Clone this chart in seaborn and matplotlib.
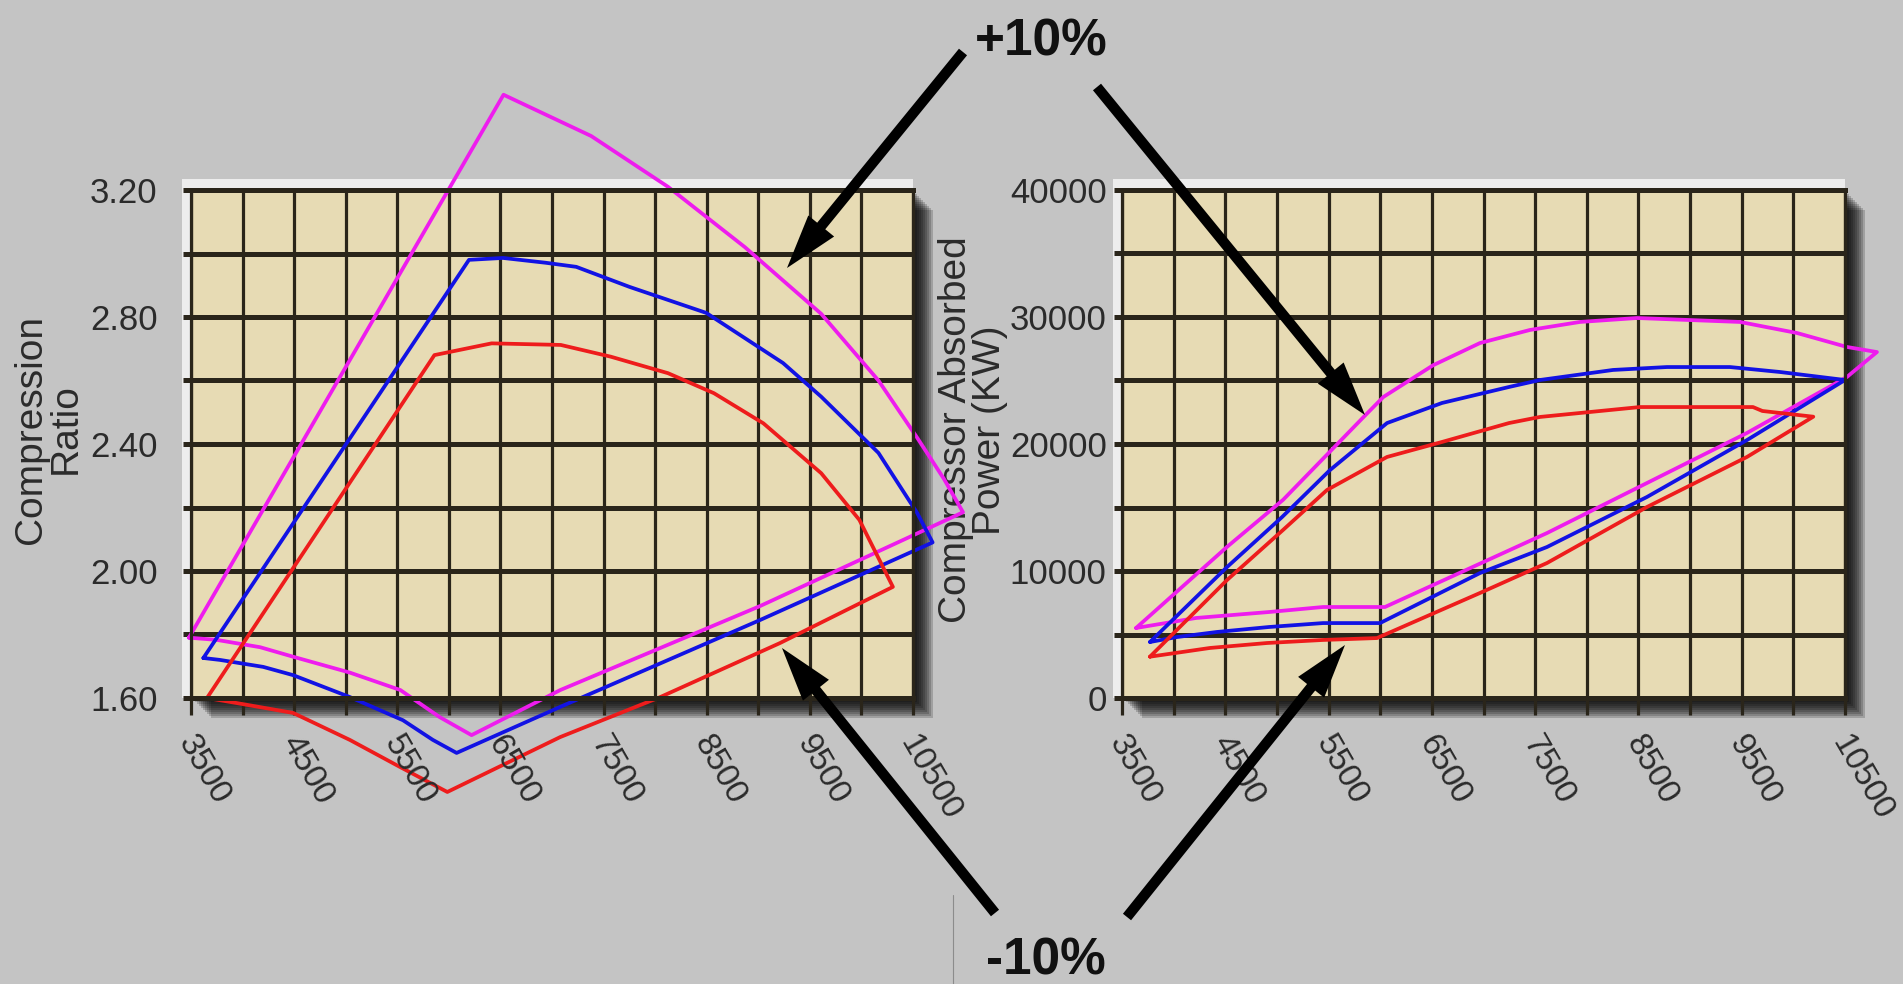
import matplotlib.pyplot as plt
import pandas as pd
import seaborn as sns
from matplotlib.lines import Line2D
from matplotlib.patches import FancyArrowPatch, Rectangle
from matplotlib.ticker import MultipleLocator
from matplotlib.transforms import ScaledTranslation, blended_transform_factory

# compression ratio map, one closed loop per speed variation (rpm, ratio)
ratio_plus_rpm = [3480, 6530, 7380, 8125, 8870, 9610, 10165, 10540, 10800, 10985,
                  9020, 7080, 6220, 5910, 5530, 5040, 4490, 4170, 3750, 3480]
ratio_plus = [1.79, 3.50, 3.37, 3.21, 3.02, 2.81, 2.60, 2.42, 2.29, 2.185,
              1.89, 1.625, 1.483, 1.54, 1.625, 1.68, 1.73, 1.76, 1.783, 1.79]
ratio_nom_rpm = [3620, 6195, 6525, 6935, 7235, 7750, 8495, 9240, 9610, 10165, 10540, 10690,
                 9020, 7080, 6075, 5845, 5555, 5040, 4490, 4200, 3780, 3620]
ratio_nom = [1.726, 2.98, 2.986, 2.971, 2.958, 2.895, 2.813, 2.655, 2.549, 2.372, 2.183, 2.09,
             1.846, 1.572, 1.427, 1.468, 1.53, 1.603, 1.672, 1.698, 1.72, 1.726]
ratio_minus_rpm = [3655, 5860, 6415, 7085, 7570, 8125, 8570, 9050, 9610, 9980, 10305,
                   9210, 8050, 7080, 5985, 5525, 5040, 4490, 3945, 3655]
ratio_minus = [1.60, 2.68, 2.717, 2.712, 2.675, 2.623, 2.56, 2.465, 2.308, 2.161, 1.95,
               1.773, 1.603, 1.477, 1.304, 1.383, 1.468, 1.553, 1.584, 1.60]

# compressor absorbed power map (rpm, kW)
power_plus_rpm = [3636, 4517, 5059, 5836, 6030, 6512, 6966, 7450, 7934, 8486, 9483, 10035, 10519, 10809,
                  10519, 9551, 8583, 7615, 6046, 5446, 4923, 4216, 3636]
power_plus = [5512, 11900, 15600, 22100, 23700, 26200, 27950, 28980, 29610, 29920, 29610, 28740, 27640, 27240,
              25280, 20870, 16930, 12990, 7165, 7165, 6770, 6300, 5512]
power_nom_rpm = [3771, 4517, 5050, 5514, 6066, 6598, 7247, 7547, 8254, 8776, 9386, 9870, 10500,
                 9551, 8583, 7615, 6966, 5998, 5446, 4923, 4420, 4032, 3771]
power_nom = [4410, 10310, 14250, 17950, 21650, 23230, 24490, 25040, 25830, 26060, 26060, 25670, 25040,
             20310, 15830, 11890, 9840, 5900, 5900, 5590, 5200, 4800, 4410]
power_minus_rpm = [3771, 4517, 5059, 5485, 6066, 6598, 7247, 7547, 8031, 8515, 9609, 9700, 10193,
                   9551, 8583, 7615, 6966, 5969, 5446, 4904, 4352, 3771]
power_minus = [3254, 9290, 13230, 16380, 18980, 20160, 21650, 22130, 22520, 22910, 22910, 22600, 22150,
               18980, 15040, 10630, 8270, 4720, 4570, 4330, 3940, 3254]

rpm_labels = [3500, 4500, 5500, 6500, 7500, 8500, 9500, 10500]
ratio_labels = [1.60, 2.00, 2.40, 2.80, 3.20]
power_labels = [0, 10000, 20000, 30000, 40000]
curve_names = ["+10%", "nominal", "-10%"]
curve_colors = ["#ee1cee", "#1212e4", "#ee1c1c"]

W, H = 1903, 984
grid_color = "#2a251a"
text_color = "#2b2b2b"

sns.set_theme(style="white", rc={"figure.facecolor": "#c4c4c4", "axes.facecolor": "#e7dbb4"})
plt.rcParams["font.family"] = ["Liberation Sans", "DejaVu Sans"]

fig = plt.figure(figsize=(W / 100, H / 100), dpi=100)


def make_frame(parts, ycol):
    frames = []
    for name, xs, ys in parts:
        frames.append(pd.DataFrame({"rpm": xs, ycol: ys, "curve": name}))
    return pd.concat(frames, ignore_index=True)


def add_axes(box):
    left, top, right, bottom = box
    # light bevel on the top / left and a soft drop shadow bottom / right
    fig.add_artist(Rectangle(((left - 9) / W, 1 - bottom / H), (right - left + 9) / W,
                             (bottom - top + 11) / H, transform=fig.transFigure,
                             color="#ededed", lw=0, zorder=-3))
    for off in range(20, 1, -2):
        fig.add_artist(Rectangle(((left + off) / W, 1 - (bottom + off) / H), (right - left) / W,
                                 (bottom - top) / H, transform=fig.transFigure,
                                 color="black", alpha=0.18, lw=0, zorder=-2))
    return fig.add_axes([left / W, 1 - bottom / H, (right - left) / W, (bottom - top) / H])


def style_axes(ax, yticks, ystep, fmt, ypad):
    ax.set_xlim(3500, 10500)
    ax.set_ylim(yticks[0], yticks[-1])
    ax.set_xticks(rpm_labels)
    ax.set_xticklabels([])
    ax.set_yticks(yticks)
    ax.set_yticklabels([fmt.format(v) for v in yticks])
    ax.xaxis.set_minor_locator(MultipleLocator(500))
    ax.yaxis.set_minor_locator(MultipleLocator(ystep))
    ax.set_axisbelow(True)
    ax.xaxis.grid(True, which="both", color=grid_color, lw=2.3)
    ax.yaxis.grid(True, which="both", color=grid_color, lw=3.6)
    ax.tick_params(axis="x", which="both", direction="out", bottom=True, length=12, width=2.3,
                   color=grid_color)
    ax.tick_params(axis="y", which="both", direction="out", left=True, length=6, width=3.6,
                   color=grid_color, pad=ypad, labelsize=25, labelcolor=text_color)
    # slanted rpm labels, started just under each tick
    trans = blended_transform_factory(ax.transData, ax.transAxes) + \
        ScaledTranslation(-6 / 100, -40 / 100, fig.dpi_scale_trans)
    for v in rpm_labels:
        ax.text(v, 0, str(v), transform=trans, rotation=-60, rotation_mode="anchor",
                ha="left", va="center", fontsize=24, color=text_color, clip_on=False)
    for side in ("left", "right"):
        ax.spines[side].set_linewidth(2.3)
        ax.spines[side].set_color(grid_color)
    for side in ("top", "bottom"):
        ax.spines[side].set_linewidth(3.6)
        ax.spines[side].set_color(grid_color)
    ax.set(xlabel="", ylabel="")


ratio_df = make_frame([("+10%", ratio_plus_rpm, ratio_plus),
                       ("nominal", ratio_nom_rpm, ratio_nom),
                       ("-10%", ratio_minus_rpm, ratio_minus)], "ratio")
power_df = make_frame([("+10%", power_plus_rpm, power_plus),
                       ("nominal", power_nom_rpm, power_nom),
                       ("-10%", power_minus_rpm, power_minus)], "power")

ax1 = add_axes((191, 190, 913, 698))
ax2 = add_axes((1122, 190, 1845, 698))

for ax, df, ycol in ((ax1, ratio_df, "ratio"), (ax2, power_df, "power")):
    sns.lineplot(data=df, x="rpm", y=ycol, hue="curve", hue_order=curve_names,
                 palette=curve_colors, sort=False, estimator=None, legend=False,
                 lw=2.7, ax=ax)
    for line in ax.lines:
        line.set_clip_on(False)

style_axes(ax1, ratio_labels, 0.2, "{:.2f}", 18)
style_axes(ax2, power_labels, 5000, "{:d}", 5)

fig.text(48 / W, 1 - 429 / H, "Compression\nRatio", rotation=90, ha="center", va="center",
         fontsize=28, color=text_color, linespacing=0.95)
fig.text(973 / W, 1 - 430 / H, "Compressor Absorbed\nPower (KW)", rotation=90, ha="center",
         va="center", fontsize=28, color=text_color, linespacing=0.95, zorder=-1)

fig.text(1041 / W, 1 - 42 / H, "+10%", ha="center", va="center", fontsize=37,
         fontweight="bold", color="#111111")
fig.text(1046 / W, 1 - 961 / H, "-10%", ha="center", va="center", fontsize=37,
         fontweight="bold", color="#111111")

arrows = [((963, 52), (787, 268)), ((1097, 87), (1365, 415)),
          ((995, 913), (782, 648)), ((1127, 917), (1345, 645))]
for (xa, ya), (xb, yb) in arrows:
    fig.add_artist(FancyArrowPatch((xa / W, 1 - ya / H), (xb / W, 1 - yb / H),
                                   transform=fig.transFigure,
                                   arrowstyle="simple,head_length=1.3,head_width=0.8,tail_width=0.25",
                                   mutation_scale=30, lw=0, color="black",
                                   shrinkA=0, shrinkB=0, zorder=10))

fig.add_artist(Line2D([953 / W, 953 / W], [1 - 895 / H, 0], transform=fig.transFigure,
                      color="#8c8c8c", lw=0.8))

fig.savefig("out.png", dpi=100, facecolor=fig.get_facecolor())
